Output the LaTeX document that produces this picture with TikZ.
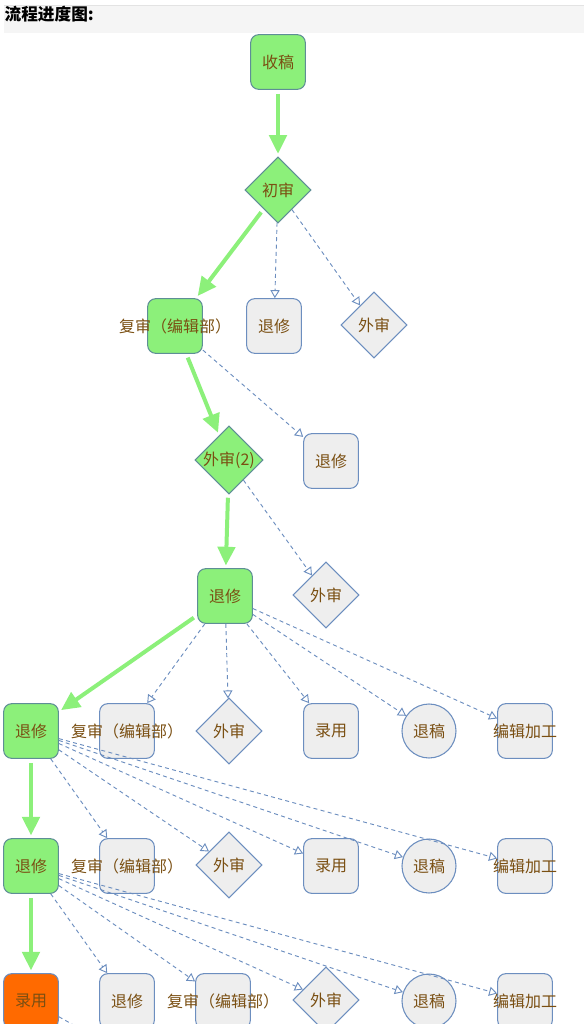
\documentclass[tikz,border=0pt]{standalone}
\usepackage{fontspec}
\setmainfont{Noto Sans CJK SC}
\usetikzlibrary{shapes.geometric,arrows.meta}
\definecolor{ggreen}{HTML}{8CF07A}
\definecolor{gborder}{HTML}{5E8E96}
\definecolor{boxblue}{HTML}{6C8EBF}
\definecolor{boxgray}{HTML}{EEEEEE}
\definecolor{txtbrown}{HTML}{7A4F12}
\definecolor{accorange}{HTML}{FF6A00}
\definecolor{titlegray}{HTML}{F5F5F5}
\definecolor{titleline}{HTML}{E3E3E3}

\begin{document}
\begin{tikzpicture}[x=0.75pt,y=-0.75pt,
	font=\fontsize{12}{14}\selectfont,text=txtbrown,
	box/.style={draw=boxblue,fill=boxgray,rounded corners=6pt,minimum size=41pt,inner sep=0pt,line width=0.8pt},
	gbox/.style={box,draw=gborder,fill=ggreen},
	dmd/.style={diamond,draw=boxblue,fill=boxgray,minimum size=49.5pt,inner sep=0pt,line width=0.8pt},
	gdmd/.style={dmd,draw=gborder,fill=ggreen},
	rnd/.style={circle,draw=boxblue,fill=boxgray,minimum size=40.5pt,inner sep=0pt,line width=0.8pt},
	flow/.style={draw=ggreen,line width=3pt,-{Triangle[length=14pt,width=13pt]},shorten <=3pt,shorten >=2pt},
	alt/.style={draw=boxblue,line width=0.7pt,dash pattern=on 3pt off 2.5pt,-{Triangle[open,length=6pt,width=7pt]}}]
	\useasboundingbox (0,0) rectangle (584,1024);
	\clip (0,0) rectangle (584,1024);
	\fill[titlegray] (4,5) rectangle (584,33);
	\draw[titleline] (4,5) -- (584,5);
	\node[anchor=west,text=black,inner sep=1pt,font=\bfseries\fontsize{12.5}{14}\selectfont] (title) at (3,14) {流程进度图:};

	\node[gbox] (st 0) at (278,62) {收稿};
	\node[gdmd] (st 1) at (278,190) {初审};

	\node[gbox,label=center:复审（编辑部）] (st 2-1) at (175,326) {};
	\node[box] (st 2-2) at (274,326) {退修};
	\node[dmd] (st 2-3) at (374,325) {外审};

	\node[gdmd] (st 3-1) at (229,460) {外审(2)};
	\node[box] (st 3-2) at (331,461) {退修};

	\node[gbox] (st 4-1) at (225,596) {退修};
	\node[dmd] (st 4-2) at (326,595) {外审};

	\node[gbox] (st 5-1) at (31,731) {退修};
	\node[box,label=center:复审（编辑部）] (st 5-2) at (127,731) {};
	\node[dmd] (st 5-3) at (229,731) {外审};
	\node[box] (st 5-4) at (331,731) {录用};
	\node[rnd] (st 5-5) at (429,731) {退稿};
	\node[box,label=center:编辑加工] (st 5-6) at (525,731) {};

	\node[gbox] (st 6-1) at (31,866) {退修};
	\node[box,label=center:复审（编辑部）] (st 6-2) at (127,866) {};
	\node[dmd] (st 6-3) at (229,865) {外审};
	\node[box] (st 6-4) at (331,866) {录用};
	\node[rnd] (st 6-5) at (429,866) {退稿};
	\node[box,label=center:编辑加工] (st 6-6) at (525,866) {};

	\node[box,fill=accorange] (st 7-1) at (31,1001) {录用};
	\node[box] (st 7-2) at (127,1001) {退修};
	\node[box,label=center:复审（编辑部）] (st 7-3) at (223,1001) {};
	\node[dmd] (st 7-4) at (326,1000) {外审};
	\node[rnd] (st 7-5) at (429,1001) {退稿};
	\node[box,label=center:编辑加工] (st 7-6) at (525,1001) {};
	\coordinate (off) at (270,1136);

	\draw[flow] (st 0) -- (st 1);
	\draw[flow] (st 1) -- (st 2-1);
	\draw[alt] (st 1) -- (st 2-2);
	\draw[alt] (st 1) -- (st 2-3);
	\draw[flow] (st 2-1) -- (st 3-1);
	\draw[alt] (st 2-1) -- (st 3-2);
	\draw[flow] (st 3-1) -- (st 4-1);
	\draw[alt] (st 3-1) -- (st 4-2);
	\draw[flow] (st 4-1) -- (st 5-1);
	\foreach \i in {2,...,6}
		\draw[alt] (st 4-1) -- (st 5-\i);
	\draw[flow] (st 5-1) -- (st 6-1);
	\foreach \i in {2,...,6}
		\draw[alt] (st 5-1) -- (st 6-\i);
	\draw[flow] (st 6-1) -- (st 7-1);
	\foreach \i in {2,...,6}
		\draw[alt] (st 6-1) -- (st 7-\i);
	\draw[alt] (st 7-1) -- (off);
\end{tikzpicture}
\end{document}
